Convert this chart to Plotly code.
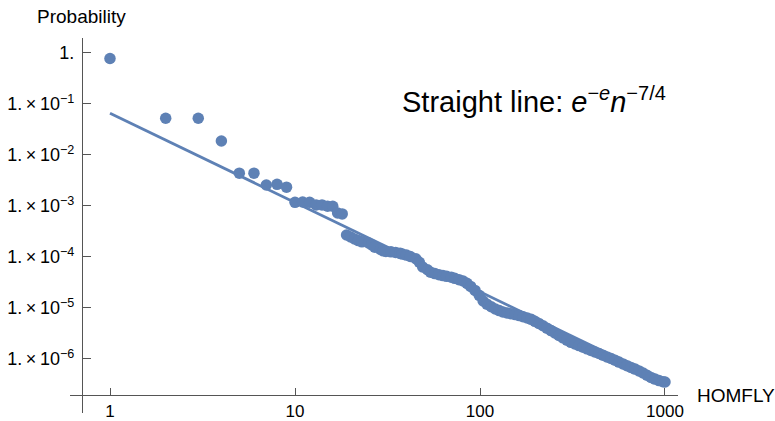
import plotly.graph_objects as go

# ---- data ----
rank_sparse = [1, 2, 3, 4, 5, 6, 7, 8, 9, 10, 11, 12, 13, 14, 15, 16, 17, 18]
prob_sparse = [0.78, 0.0525, 0.0525, 0.0188, 0.0044, 0.0044, 0.00258, 0.00266, 0.00234,
               0.00118, 0.00120, 0.00118, 0.00105, 0.00105, 0.00099, 0.00099, 0.00073, 0.00070]

rank_dense = [19, 20, 21, 22, 23, 25, 26, 27, 29, 30, 31, 33, 35, 37, 38, 40, 42, 45,
              47, 49, 52, 54, 57, 60, 63, 66, 70, 73, 77, 81, 85, 89, 94, 99, 104, 109,
              115, 121, 127, 133, 140, 147, 155, 163, 171, 180, 189, 198, 208, 219, 230,
              242, 254, 267, 281, 295, 310, 326, 343, 361, 379, 398, 418, 440, 462, 486,
              511, 537, 564, 593, 623, 655, 689, 724, 761, 799, 840, 883, 928, 975, 1000]
prob_dense = [2.70e-4, 2.47e-4, 2.25e-4, 2.10e-4, 1.98e-4, 1.88e-4, 1.73e-4, 1.56e-4,
              1.41e-4, 1.32e-4, 1.28e-4, 1.26e-4, 1.23e-4, 1.18e-4, 1.14e-4, 1.09e-4,
              1.02e-4, 9.22e-5, 7.87e-5, 6.37e-5, 5.61e-5, 5.04e-5, 4.73e-5, 4.50e-5,
              4.32e-5, 4.17e-5, 4.00e-5, 3.81e-5, 3.59e-5, 3.38e-5, 3.04e-5, 2.65e-5,
              2.21e-5, 1.77e-5, 1.37e-5, 1.19e-5, 1.06e-5, 9.56e-6, 8.89e-6, 8.39e-6,
              7.98e-6, 7.70e-6, 7.42e-6, 7.10e-6, 6.72e-6, 6.37e-6, 6.00e-6, 5.48e-6,
              4.99e-6, 4.48e-6, 4.02e-6, 3.61e-6, 3.23e-6, 2.90e-6, 2.60e-6, 2.34e-6,
              2.12e-6, 1.97e-6, 1.83e-6, 1.70e-6, 1.58e-6, 1.47e-6, 1.37e-6, 1.28e-6,
              1.19e-6, 1.10e-6, 1.02e-6, 9.43e-7, 8.69e-7, 8.01e-7, 7.39e-7, 6.84e-7,
              6.34e-7, 5.84e-7, 5.31e-7, 4.79e-7, 4.36e-7, 4.04e-7, 3.77e-7, 3.59e-7, 3.54e-7]

line_rank = [1, 1000]
line_prob = [0.066, 3.7e-7]

x_tickvals = [1, 10, 100, 1000]
x_ticktext = ["1", "10", "100", "1000"]
y_tickvals = [1, 1e-1, 1e-2, 1e-3, 1e-4, 1e-5, 1e-6]
y_ticktext = ["1."] + ["1.\u2009×\u200910<sup>−%d</sup>" % k for k in range(1, 7)]

COLOR = "#5E81B5"
FONT = "Liberation Sans, Arial, Helvetica, sans-serif"
AXC = "#555555"

fig = go.Figure()
fig.add_trace(go.Scatter(x=line_rank, y=line_prob, mode="lines",
                         line=dict(color=COLOR, width=2.8), hoverinfo="skip",
                         showlegend=False))
fig.add_trace(go.Scatter(x=rank_sparse + rank_dense, y=prob_sparse + prob_dense,
                         mode="markers", marker=dict(color=COLOR, size=11.5, line=dict(width=0)),
                         showlegend=False))

SUP = '<span style="font-size:20px">'
label = ("Straight line: <i>e</i><sup>" + SUP + "−<i>e</i></span></sup>"
         "<i>n</i><sup>" + SUP + "−7/4</span></sup>")

fig.update_layout(
    width=775, height=421,
    margin=dict(l=70, r=97, t=38, b=8),
    paper_bgcolor="white", plot_bgcolor="white",
    font=dict(family=FONT, color="black", size=17),
    xaxis=dict(type="log", range=[-0.2162, 3.0703], showgrid=False, zeroline=False,
               showline=True, linecolor=AXC, linewidth=1, ticks="inside", ticklen=7,
               tickcolor=AXC, tickwidth=1, tickvals=x_tickvals, ticktext=x_ticktext,
               anchor="free", position=0.048, tickfont=dict(size=17),
               ticklabelstandoff=1, automargin=False),
    yaxis=dict(type="log", range=[-7.059, 0.294], showgrid=False, zeroline=False,
               showline=True, linecolor=AXC, linewidth=1, ticks="inside", ticklen=8,
               tickcolor=AXC, tickwidth=1, tickvals=y_tickvals, ticktext=y_ticktext,
               anchor="free", position=0.0197, tickfont=dict(size=18),
               ticklabelstandoff=4, automargin=False),
    annotations=[
        dict(text="Probability", xref="paper", yref="paper", x=0.0197, y=1.056,
             xanchor="center", yanchor="middle", showarrow=False, font=dict(size=19)),
        dict(text="HOMFLY", xref="paper", yref="paper", x=1.028, y=0.048,
             xanchor="left", yanchor="middle", showarrow=False, font=dict(size=19)),
        dict(text=label, xref="paper", yref="paper", x=0.763, y=0.835, xanchor="center",
             yanchor="middle", showarrow=False, font=dict(size=29)),
    ],
)

fig.write_html("out.html", config={"displayModeBar": False},
               post_script="document.body.style.margin='0';")
